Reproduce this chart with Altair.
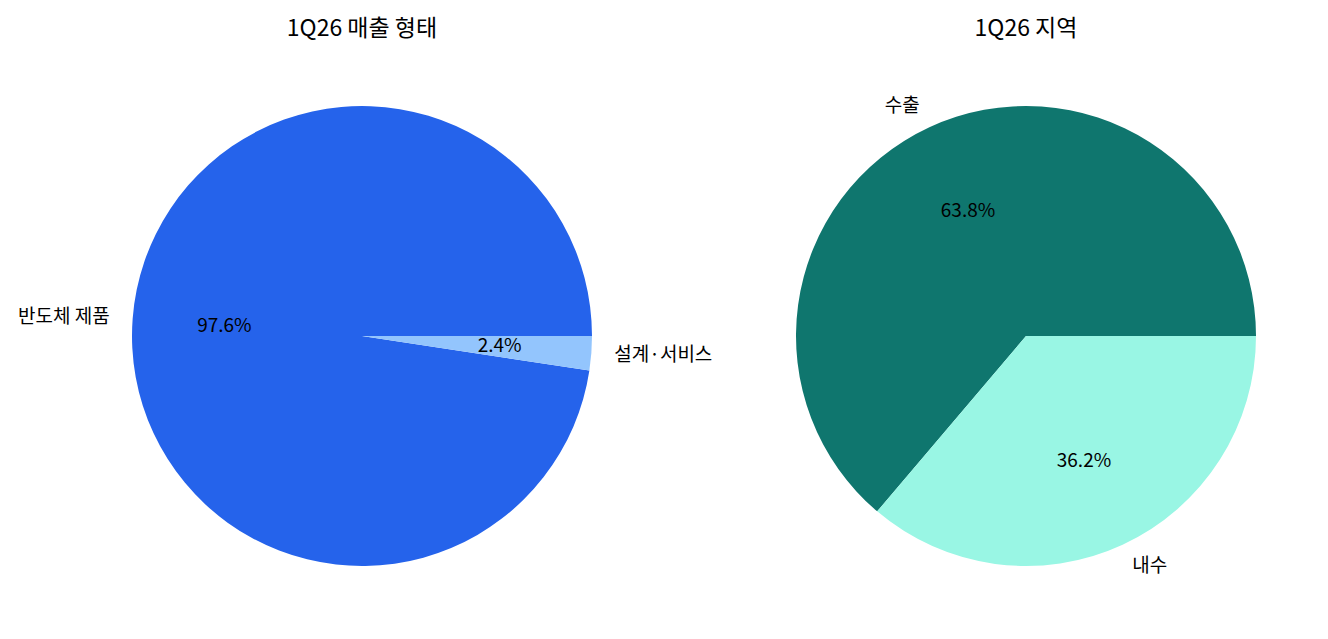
import math
import altair as alt
import pandas as pd

FONT = "Noto Sans CJK KR"

title_left = "1Q26 매출 형태"
cats_left = ["반도체 제품", "설계·서비스"]
vals_left = [97.6, 2.4]
colors_left = ["#2563eb", "#93c5fd"]

title_right = "1Q26 지역"
cats_right = ["수출", "내수"]
vals_right = [63.8, 36.2]
colors_right = ["#0f766e", "#99f6e4"]

R = 230
LABEL_SIZE = 19
TITLE_SIZE = 23


def pie(title, cats, vals, colors, width, height):
    df = pd.DataFrame({"label": cats, "value": vals})
    base = (
        alt.Chart(df)
        .transform_window(idx="row_number()")
        .transform_window(cum="sum(value)", frame=[None, 0], sort=[alt.SortField("idx")])
        .transform_joinaggregate(total="sum(value)")
        .transform_calculate(
            side="cos(2*PI*(datum.cum - datum.value/2)/datum.total) < 0 ? 'L' : 'R'",
            pct="format(datum.value/datum.total, '.1%')",
        )
        .transform_calculate(
            lab_l="datum.side == 'L' ? datum.label : ''",
            lab_r="datum.side == 'R' ? datum.label : ''",
        )
        .encode(
            theta=alt.Theta(
                "value:Q",
                stack=True,
                scale=alt.Scale(range=[math.pi / 2, math.pi / 2 + 2 * math.pi]),
            ),
            order=alt.Order("idx:Q", sort="descending"),
        )
    )
    arc = base.mark_arc(radius=R, strokeWidth=0).encode(
        color=alt.Color(
            "label:N", scale=alt.Scale(domain=cats, range=colors), legend=None
        )
    )
    pct = base.mark_text(
        radius=R * 0.6, font=FONT, fontSize=LABEL_SIZE, color="black", align="center", baseline="middle"
    ).encode(text="pct:N")
    lab_l = base.mark_text(
        radius=R * 1.1, font=FONT, fontSize=LABEL_SIZE, color="black", align="right", baseline="middle"
    ).encode(text="lab_l:N")
    lab_r = base.mark_text(
        radius=R * 1.1, font=FONT, fontSize=LABEL_SIZE, color="black", align="left", baseline="middle"
    ).encode(text="lab_r:N")
    return alt.layer(arc, pct, lab_l, lab_r).properties(
        width=width,
        height=height,
        title=alt.TitleParams(
            title, font=FONT, fontSize=TITLE_SIZE, fontWeight="normal",
            offset=7, dy=3, anchor="middle",
        ),
    )


left = pie(title_left, cats_left, vals_left, colors_left, 708, 582)
right = pie(title_right, cats_right, vals_right, colors_right, 580, 582)

chart = (
    alt.hconcat(left, right, spacing=20)
    .resolve_scale(color="independent", theta="independent")
    .properties(padding={"left": 0, "top": 10, "right": 0, "bottom": 0})
    .configure_view(stroke=None)
    .configure(background="white")
)

chart.save("out.html", embed_options={"renderer": "svg", "actions": False})
